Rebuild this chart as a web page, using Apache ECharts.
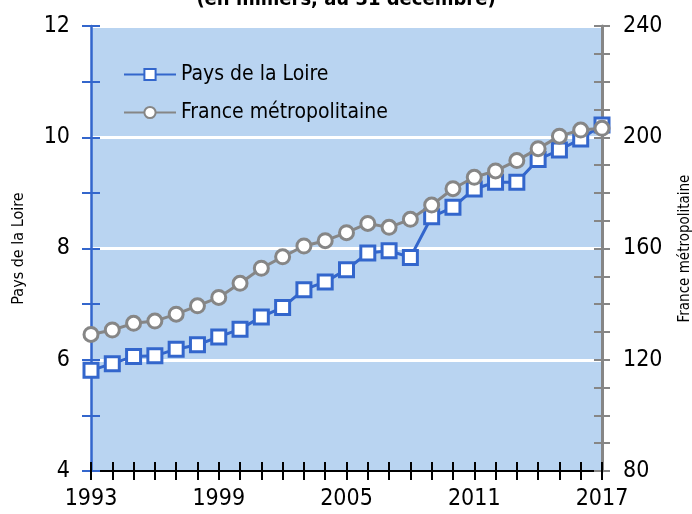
<!DOCTYPE html>
<html>
<head>
<meta charset="utf-8">
<script src="https://cdn.jsdelivr.net/npm/echarts@6/dist/echarts.min.js"></script>
<style>
  html, body { margin: 0; padding: 0; background: #fff; }
  #chart { width: 692px; height: 514px; }
</style>
</head>
<body>
<div id="chart"></div>
<script>
  // données (en milliers, au 31 décembre)
  var years = ['1993', '1994', '1995', '1996', '1997', '1998', '1999', '2000', '2001', '2002',
    '2003', '2004', '2005', '2006', '2007', '2008', '2009', '2010', '2011', '2012',
    '2013', '2014', '2015', '2016', '2017']
  var paysLoire = [5.81, 5.93, 6.06, 6.07, 6.19, 6.27, 6.41, 6.55, 6.77, 6.94,
    7.26, 7.40, 7.62, 7.92, 7.96, 7.84, 8.57, 8.74, 9.07, 9.19,
    9.19, 9.60, 9.77, 9.97, 10.22]
  var france = [129.1, 130.7, 133.1, 133.9, 136.4, 139.4, 142.4, 147.5, 152.9, 157.0,
    160.9, 162.8, 165.7, 169.0, 167.6, 170.5, 175.6, 181.5, 185.6, 187.9,
    191.6, 195.9, 200.4, 202.6, 203.2]
  var xLabels = ['1993', '1999', '2005', '2011', '2017']

  var font = '"DejaVu Sans Condensed", sans-serif'
  var blue = '#3366cc'
  var grey = '#868686'

  var chart = echarts.init(document.getElementById('chart'))
  chart.setOption({
    animation: false,
    textStyle: { fontFamily: font },
    title: {
      text: '(en milliers, au 31 décembre)',
      left: 'center',
      top: -15,
      textStyle: { fontSize: 20, fontWeight: 'bold', color: '#000', fontFamily: font }
    },
    legend: {
      orient: 'vertical',
      left: 118,
      top: 59,
      itemWidth: 52,
      itemHeight: 14,
      itemGap: 17,
      textStyle: { fontSize: 21, color: '#000', fontFamily: font },
      data: ['Pays de la Loire', 'France métropolitaine']
    },
    grid: {
      left: 91, right: 90, top: 26, bottom: 43,
      outerBoundsMode: 'none',
      containLabel: false,
      show: true, backgroundColor: '#b9d4f1', borderWidth: 0
    },
    xAxis: [
      {
        type: 'category',
        data: years,
        boundaryGap: false,
        axisLine: { lineStyle: { color: '#000', width: 2 } },
        axisTick: { length: 9, interval: 0, lineStyle: { color: '#000', width: 2 } },
        axisLabel: {
          interval: 0, margin: 17, fontSize: 23, color: '#000', fontFamily: font,
          formatter: function (v) { return xLabels.indexOf(v) >= 0 ? v : '' }
        },
        splitLine: { show: false }
      },
      {
        type: 'category',
        data: years,
        boundaryGap: false,
        position: 'bottom',
        axisLine: { show: false },
        axisTick: { inside: true, length: 9, interval: 0, lineStyle: { color: '#000', width: 2 } },
        axisLabel: { show: false },
        splitLine: { show: false }
      }
    ],
    yAxis: [
      {
        type: 'value',
        name: 'Pays de la Loire',
        nameLocation: 'middle',
        nameRotate: 90,
        nameGap: 64,
        nameTextStyle: { fontSize: 16, color: '#000', fontFamily: font },
        min: 4, max: 12, interval: 1,
        position: 'left',
        axisLine: { show: true, lineStyle: { color: blue, width: 2.5 } },
        axisTick: { show: true, length: 9, lineStyle: { color: blue, width: 2 } },
        axisLabel: {
          margin: 21, fontSize: 23, color: '#000', fontFamily: font,
          formatter: function (v) { return v % 2 === 0 ? v : '' }
        },
        splitLine: { show: true, lineStyle: { color: ['#ffffff', 'rgba(0,0,0,0)'], width: 3 } }
      },
      {
        type: 'value',
        name: 'France métropolitaine',
        nameLocation: 'middle',
        nameRotate: 90,
        nameGap: 76,
        nameTextStyle: { fontSize: 15, color: '#000', fontFamily: font },
        min: 80, max: 240, interval: 10,
        position: 'right',
        axisLine: { show: true, lineStyle: { color: grey, width: 3 } },
        axisTick: { show: true, length: 8, lineStyle: { color: grey, width: 2 } },
        axisLabel: {
          margin: 21, fontSize: 23, color: '#000', fontFamily: font,
          formatter: function (v) { return v % 40 === 0 ? v : '' }
        },
        splitLine: { show: false }
      },
      {
        type: 'value',
        min: 4, max: 12, interval: 1,
        position: 'left',
        axisLine: { show: false },
        axisTick: { show: true, inside: true, length: 9, lineStyle: { color: blue, width: 2 } },
        axisLabel: { show: false },
        splitLine: { show: false }
      },
      {
        type: 'value',
        min: 80, max: 240, interval: 10,
        position: 'right',
        axisLine: { show: false },
        axisTick: { show: true, inside: true, length: 8, lineStyle: { color: grey, width: 2 } },
        axisLabel: { show: false },
        splitLine: { show: false }
      }
    ],
    series: [
      {
        name: 'France métropolitaine',
        type: 'line',
        yAxisIndex: 1,
        data: france,
        symbol: 'circle',
        symbolSize: 14,
        lineStyle: { color: grey, width: 3 },
        itemStyle: { color: '#fff', borderColor: grey, borderWidth: 3 },
        z: 3
      },
      {
        name: 'Pays de la Loire',
        type: 'line',
        yAxisIndex: 0,
        data: paysLoire,
        symbol: 'rect',
        symbolSize: 14,
        lineStyle: { color: blue, width: 3 },
        itemStyle: { color: '#fff', borderColor: blue, borderWidth: 3 },
        z: 2
      }
    ]
  })
</script>
</body>
</html>
